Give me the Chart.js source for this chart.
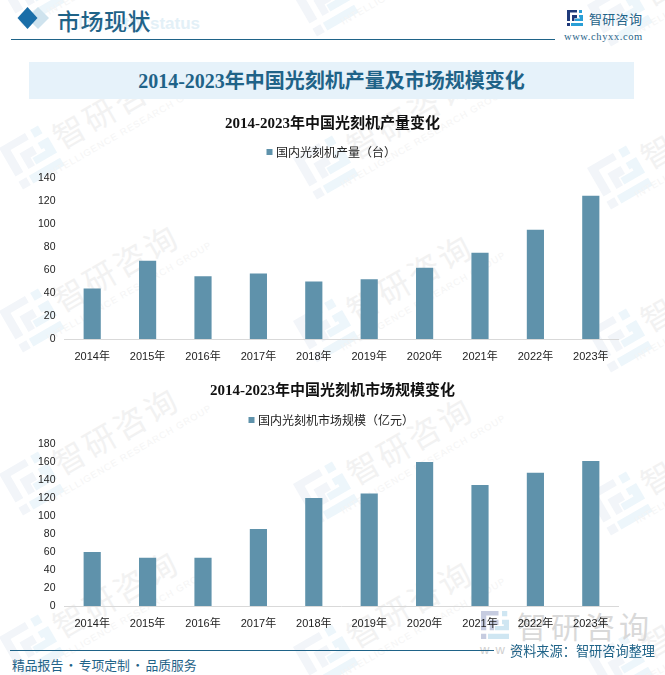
<!DOCTYPE html>
<html>
<head>
<meta charset="utf-8">
<style>
  html, body { margin: 0; padding: 0; background: #fff; }
  #page { position: relative; width: 665px; height: 675px; overflow: hidden; font-family: "Liberation Serif", "Noto Sans CJK SC", serif; }
  #page > * { position: absolute; }
  canvas { left: 0; }
  #wm { left: 0; top: 0; }
  .blue { color: #1f6388; white-space: nowrap; }
</style>
<script src="https://cdn.jsdelivr.net/npm/chart.js@4"></script>
</head>
<body>
<div id="page">
  <svg id="wm" width="665" height="675" xmlns="http://www.w3.org/2000/svg"></svg>

  <svg style="left:8px;top:5px" width="60" height="30">
    <polygon points="30,2 41,13 30,24 19,13" fill="#cfe3ee"/>
    <polygon points="19.5,2 29.5,13 19.5,24 9.5,13" fill="#1a6ea8"/>
  </svg>
  <div style="right:465px;top:14px;font:bold 17px 'Liberation Sans';color:#e3f0f7;white-space:nowrap">Industry status</div>
  <div class="blue" style="left:57px;top:3px;font-size:23px;font-weight:500;letter-spacing:0.5px">市场现状</div>
  <div style="left:11px;top:39px;width:544px;height:1px;background:#1f6388"></div>

  <svg style="left:567px;top:10px" width="16" height="16">
    <path d="M0 0H10V2.5H3V11H0Z M0 13H3V16H0Z" fill="#1f3a7a"/>
    <path d="M5 5H10V8H7.5V11H5Z" fill="#1f3a7a"/>
    <path d="M12 0H15V3H12Z M12 5H16V11H8V8.5H13V7.5H12Z M4 13H16V16H4Z" fill="#2a9fd6"/>
  </svg>
  <div class="blue" style="left:589px;top:9px;font-size:13px;letter-spacing:0.3px;font-family:'Noto Sans CJK SC'">智研咨询</div>
  <div class="blue" style="left:564px;top:31px;font-size:10.5px;letter-spacing:0.6px">www.chyxx.com</div>

  <div style="left:29px;top:62px;width:605px;height:37px;background:#e6f2fa"></div>
  <div class="blue" style="left:29px;top:62px;width:605px;line-height:38px;text-align:center;font-size:20px;font-weight:bold">2014-2023年中国光刻机产量及市场规模变化</div>

  <canvas id="chart1" width="665" height="265" style="top:110px"></canvas>
  <canvas id="chart2" width="665" height="270" style="top:375px"></canvas>

  <div style="left:10px;top:650px;width:484px;height:1px;background:#1f6388"></div>
  <div class="blue" style="left:12px;top:656px;font-size:12.8px;line-height:18px;word-spacing:-1.5px;font-family:'Noto Sans CJK SC'">精品报告 · 专项定制 · 品质服务</div>
  <div class="blue" style="left:510px;top:642px;font-size:13.2px;line-height:18px;font-family:'Noto Sans CJK SC'">资料来源：智研咨询整理</div>
</div>

<script>
const years = ['2014年', '2015年', '2016年', '2017年', '2018年', '2019年', '2020年', '2021年', '2022年', '2023年'];
const output = [44, 68, 54.5, 57, 50, 52, 62, 75, 95, 124.5];
const marketSize = [60, 53.5, 53.5, 85.5, 120, 125, 160, 134.5, 148, 161];

const barColor = '#5f92ab';
const tickFont = "'Liberation Sans', 'Noto Sans CJK SC', sans-serif";

// background watermarks, repeated over the page
const NS = 'http://www.w3.org/2000/svg';
const wm = document.getElementById('wm');

function add(parent, tag, attrs, text) {
  const el = document.createElementNS(NS, tag);
  for (const k in attrs) el.setAttribute(k, attrs[k]);
  if (text) el.textContent = text;
  parent.appendChild(el);
  return el;
}

function logoMark(parent, x, y, left, right) {
  const g = add(parent, 'g', { transform: `translate(${x} ${y}) rotate(-30) scale(3)` });
  add(g, 'path', { d: 'M0 0H10V2.5H3V11H0Z M0 13H3V16H0Z M5 5H10V8H7.5V11H5Z', fill: left });
  add(g, 'path', { d: 'M12 0H15V3H12Z M12 5H16V11H8V8.5H13V7.5H12Z M4 13H16V16H4Z', fill: right });
}

function stamp(x, y) {
  logoMark(wm, x - 117, y + 43, '#f2f5f9', '#edf6fb');
  const g = add(wm, 'g', { transform: `translate(${x} ${y}) rotate(-30)` });
  add(g, 'text', { x: 0, y: 12, 'text-anchor': 'middle', 'font-size': 32, 'letter-spacing': 3, 'font-family': 'Noto Sans CJK SC', fill: '#f2f2f2' }, '智研咨询');
  add(g, 'text', { x: 0, y: 30, 'text-anchor': 'middle', 'font-size': 9.5, 'letter-spacing': 1, 'font-family': 'Liberation Sans', fill: '#f5f5f5' }, 'INTELLIGENCE RESEARCH GROUP');
}

for (let c = 0; c < 3; c++) {
  for (let r = -1; r < 4; r++) {
    stamp(116 + 294 * c, 105 + 163 * r + 10 * c);
  }
}

// grey company mark at the bottom right
add(wm, 'text', { x: 517, y: 638, 'font-size': 30, 'letter-spacing': 4, 'font-family': 'Noto Sans CJK SC', fill: '#d9d9d9' }, '智研咨询');
add(wm, 'text', { x: 480, y: 654, 'font-size': 13, 'letter-spacing': 6, 'font-family': 'Liberation Sans', fill: '#d0d0d0' }, 'www');
const big = add(wm, 'g', { transform: 'translate(481 611) scale(1.75)' });
add(big, 'path', { d: 'M0 0H10V2.5H3V11H0Z M0 13H3V16H0Z M5 5H10V8H7.5V11H5Z', fill: '#c6cce0' });
add(big, 'path', { d: 'M12 0H15V3H12Z M12 5H16V11H8V8.5H13V7.5H12Z M4 13H16V16H4Z', fill: '#cfe6f2' });

function makeChart(id, title, label, data, yMax, topPad, titleGap, legendGap, xHeight) {
  return new Chart(id, {
    type: 'bar',
    data: {
      labels: years,
      datasets: [{
        label: label,
        data: data,
        yAxisID: 'y',
        backgroundColor: barColor,
        barPercentage: 0.31,
        categoryPercentage: 1,
      }],
    },
    // extra room under the legend
    plugins: [{
      id: 'legendGap',
      beforeInit(chart) {
        const fit = chart.legend.fit;
        chart.legend.fit = function () {
          fit.call(this);
          this.height += legendGap;
        };
      },
    }],
    options: {
      responsive: false,
      animation: false,
      layout: { padding: { top: topPad } },
      plugins: {
        tooltip: { enabled: false },
        title: {
          display: true,
          text: title,
          color: '#111',
          font: { family: "'Liberation Serif', 'Noto Sans CJK SC', serif", size: 15, weight: 'bold' },
          padding: { top: 0, bottom: titleGap },
        },
        legend: {
          position: 'top',
          labels: {
            usePointStyle: true,
            pointStyle: 'rect',
            boxWidth: 1,
            boxHeight: 6,
            padding: 8,
            color: '#222',
            font: { family: "'Noto Sans CJK SC', sans-serif", size: 12 },
          },
        },
      },
      scales: {
        x: {
          grid: { display: false, drawTicks: false },
          border: { color: '#d9d9d9', width: 1 },
          ticks: { color: '#222', padding: 11, maxRotation: 0, font: { family: tickFont, size: 11 } },
          afterFit: (axis) => { axis.height = xHeight; },
        },
        y: {
          min: 0,
          max: yMax,
          grid: { display: false, drawTicks: false },
          border: { display: false },
          ticks: { stepSize: 20, color: '#222', padding: 9, font: { family: tickFont, size: 10.5 } },
          afterFit: (axis) => { axis.width = 64.5; },
        },
        // empty axis that only holds the right margin, so title and legend stay centred on the page
        margin: {
          position: 'right',
          grid: { display: false, drawTicks: false },
          border: { display: false },
          ticks: { display: false },
          afterFit: (axis) => { axis.width = 46.5; },
        },
      },
    },
  });
}

makeChart('chart1', '2014-2023年中国光刻机产量变化', '国内光刻机产量（台）', output, 140, 5, 5, 10, 36);
makeChart('chart2', '2014-2023年中国光刻机市场规模变化', '国内光刻机市场规模（亿元）', marketSize, 180, 7, 6, 8, 39);
</script>
</body>
</html>
